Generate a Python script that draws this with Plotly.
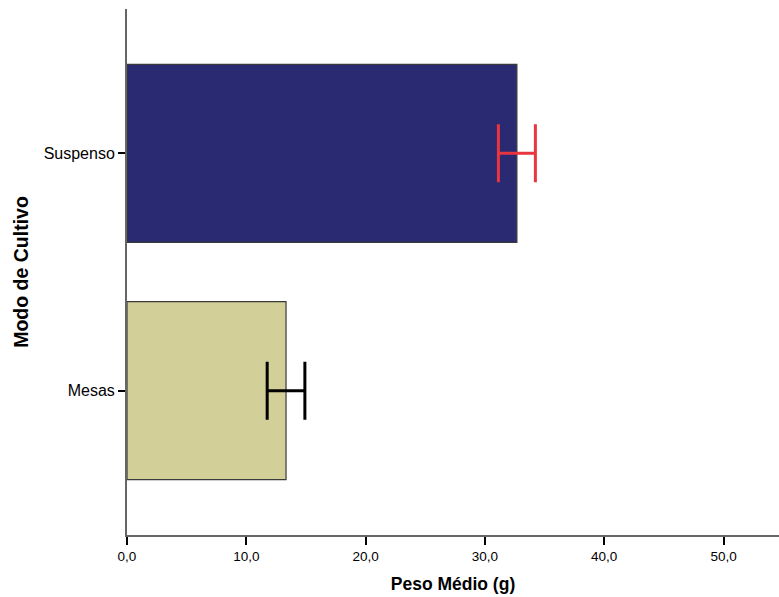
import plotly.graph_objects as go

# Mean weight by cultivation mode, with error half-widths
categorias = ["Mesas", "Suspenso"]
peso_medio = [13.33, 32.68]
erro = [1.58, 1.55]
cores_barra = ["#d3cf99", "#292a72"]
cores_erro = ["#000000", "#e8353f"]
x_ticks = [0, 10, 20, 30, 40, 50]
x_tick_text = ["0,0", "10,0", "20,0", "30,0", "40,0", "50,0"]

fig = go.Figure()
for cat, val, err, cb, ce in zip(categorias, peso_medio, erro, cores_barra, cores_erro):
    fig.add_trace(go.Bar(
        y=[cat], x=[val], orientation="h", width=0.75,
        marker=dict(color=cb, line=dict(color="#3a3a3a", width=1.2)),
        error_x=dict(type="data", array=[err], color=ce, thickness=3, width=29),
        showlegend=False,
    ))

fig.update_layout(
    width=779, height=597,
    margin=dict(l=126.5, r=0, t=9, b=62),
    paper_bgcolor="white", plot_bgcolor="white",
    barmode="overlay",
    font=dict(family="Liberation Sans, Arial, sans-serif", color="#000000"),
    xaxis=dict(
        range=[0, 54.65], tickvals=x_ticks, ticktext=x_tick_text,
        showgrid=False, zeroline=False,
        showline=True, linecolor="#666666", linewidth=2,
        ticks="outside", ticklen=8, tickwidth=2, tickcolor="#000000",
        tickfont=dict(size=13.5),
        title=dict(text="<b>Peso Médio (g)</b>", font=dict(size=17.5), standoff=15),
    ),
    yaxis=dict(
        categoryorder="array", categoryarray=categorias,
        range=[-0.608, 1.608],
        showgrid=False, zeroline=False,
        showline=True, linecolor="#666666", linewidth=2,
        ticks="outside", ticklen=7, tickwidth=2, tickcolor="#000000",
        tickfont=dict(size=16),
        title=dict(text="<b>Modo de Cultivo</b>", font=dict(size=19.5), standoff=10),
    ),
)

fig.write_html("out.html")
